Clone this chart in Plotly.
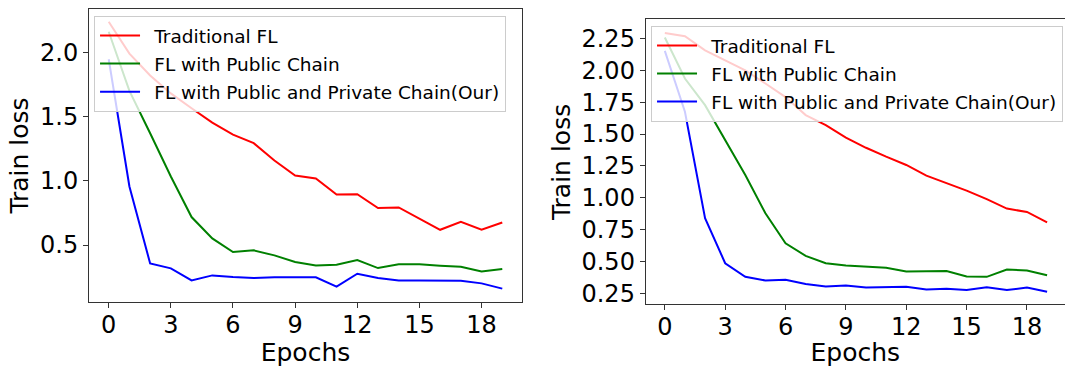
import plotly.graph_objects as go

epochs = list(range(20))
names = ["Traditional FL", "FL with Public Chain", "FL with Public and Private Chain(Our)"]
colors = ["#ff0000", "#008000", "#0000ff"]

# left panel
left_trad = [2.238, 1.99, 1.82, 1.68, 1.565, 1.453, 1.36, 1.293, 1.158, 1.041,
             1.018, 0.894, 0.896, 0.788, 0.793, 0.707, 0.619, 0.681, 0.619, 0.676]
left_pub = [2.16, 1.70, 1.37, 1.034, 0.718, 0.552, 0.446, 0.459, 0.42, 0.368,
            0.342, 0.347, 0.383, 0.321, 0.35, 0.35, 0.34, 0.332, 0.295, 0.313]
left_our = [1.946, 0.956, 0.357, 0.319, 0.225, 0.264, 0.251, 0.244, 0.249, 0.249,
            0.249, 0.176, 0.277, 0.244, 0.225, 0.225, 0.225, 0.223, 0.202, 0.161]

# right panel
right_trad = [2.294, 2.268, 2.158, 2.08, 2.0, 1.897, 1.79, 1.649, 1.57, 1.471,
              1.392, 1.322, 1.257, 1.173, 1.113, 1.055, 0.988, 0.914, 0.888, 0.806]
right_pub = [2.258, 1.936, 1.727, 1.453, 1.178, 0.877, 0.642, 0.543, 0.485, 0.467,
             0.459, 0.449, 0.42, 0.423, 0.423, 0.381, 0.378, 0.436, 0.428, 0.391]
right_our = [2.153, 1.675, 0.838, 0.485, 0.378, 0.349, 0.355, 0.321, 0.302, 0.31,
             0.294, 0.297, 0.3, 0.279, 0.284, 0.274, 0.297, 0.274, 0.294, 0.26]

left_ticks = [0.5, 1.0, 1.5, 2.0]
right_ticks = [0.25, 0.5, 0.75, 1.0, 1.25, 1.5, 1.75, 2.0, 2.25]
x_ticks = [0, 3, 6, 9, 12, 15, 18]

FONT = "DejaVu Sans"
PAD = "\u2002"
fig = go.Figure()
for i, ys in enumerate([left_trad, left_pub, left_our]):
    fig.add_trace(go.Scatter(x=epochs, y=ys, mode="lines", name=PAD + names[i],
                             line=dict(color=colors[i], width=2),
                             xaxis="x", yaxis="y", legend="legend",
                             legendgroup="l%d" % i))
for i, ys in enumerate([right_trad, right_pub, right_our]):
    fig.add_trace(go.Scatter(x=epochs, y=ys, mode="lines", name=PAD + names[i],
                             line=dict(color=colors[i], width=2),
                             xaxis="x2", yaxis="y2", legend="legend2",
                             legendgroup="r%d" % i))

axis_common = dict(showline=True, linecolor="#333333", linewidth=1, mirror=True,
                   ticks="outside", ticklen=5, tickwidth=1, tickcolor="#333333",
                   showgrid=False, zeroline=False, automargin=False,
                   tickfont=dict(family=FONT, size=24, color="black"))
title_font = dict(family=FONT, size=25, color="black")

legend_common = dict(bgcolor="rgba(255,255,255,0.8)", bordercolor="#cccccc", borderwidth=1,
                     font=dict(family=FONT, size=18.5, color="black"),
                     xanchor="left", yanchor="top", tracegroupgap=1,
                     itemwidth=40)

fig.update_layout(
    width=1065, height=367,
    margin=dict(l=0, r=0, t=0, b=0),
    paper_bgcolor="white", plot_bgcolor="white",
    showlegend=True,
    xaxis=dict(domain=[0.0836, 0.4901], range=[-0.95, 19.95], tickvals=x_ticks,
               ticklabelstandoff=-4,
               title=dict(text="Epochs", font=title_font, standoff=9),
               anchor="y", **axis_common),
    yaxis=dict(domain=[0.1771, 0.9755], range=[0.057, 2.337], tickvals=left_ticks,
               tickformat=".1f",
               title=dict(text="Train loss", font=title_font, standoff=4),
               anchor="x", **axis_common),
    xaxis2=dict(domain=[0.6063, 1.0], range=[-0.95, 19.89], tickvals=x_ticks,
                ticklabelstandoff=-4,
                title=dict(text="Epochs", font=title_font, standoff=9),
                anchor="y2", **axis_common),
    yaxis2=dict(domain=[0.1708, 0.9469], range=[0.162, 2.40], tickvals=right_ticks,
                tickformat=".2f",
                title=dict(text="Train loss", font=title_font, standoff=3),
                anchor="x2", **axis_common),
    legend=dict(x=0.0883, y=0.9564, **legend_common),
    legend2=dict(x=0.6113, y=0.9292, **legend_common),
)

fig.write_html("out.html")
